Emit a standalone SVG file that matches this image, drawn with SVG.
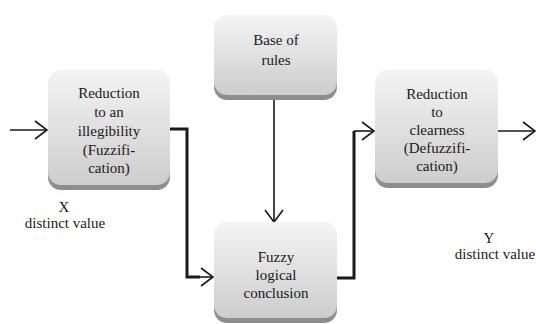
<svg xmlns="http://www.w3.org/2000/svg" width="536" height="324" viewBox="0 0 536 324">
<defs>
<linearGradient id="g" x1="0" y1="0" x2="0" y2="1">
<stop offset="0" stop-color="#f4f4f4"/>
<stop offset="1" stop-color="#cdcdcd"/>
</linearGradient>
<linearGradient id="sh" x1="0" y1="0" x2="0" y2="1">
<stop offset="0" stop-color="#bdbdbd"/>
<stop offset="1" stop-color="#8c8c8c"/>
</linearGradient>
<marker id="ah" viewBox="0 0 14 20" refX="13" refY="10" markerWidth="14" markerHeight="20" markerUnits="userSpaceOnUse" orient="auto">
<path d="M1,1 L13,10 L1,19" fill="none" stroke="#1a1a1a" stroke-width="1.6"/>
</marker>
</defs>
<style>
.sh{fill:url(#sh)}
.bx{fill:url(#g)}
.t{font-family:"Liberation Serif",serif;font-size:15px;fill:#1a1a1a;text-anchor:middle}
.thin{fill:none;stroke:#1a1a1a;stroke-width:1.6}
.thick{fill:none;stroke:#1a1a1a;stroke-width:3}
</style>
<rect width="536" height="324" fill="#fff"/>
<g id="connectors">
<line class="thin" x1="10" y1="130" x2="47" y2="130" marker-end="url(#ah)"/>
<polyline class="thick" points="170,129 187,129 187,277 200,277"/>
<line class="thin" x1="187" y1="277" x2="213" y2="277" marker-end="url(#ah)"/>
<line class="thin" x1="274" y1="98" x2="274" y2="222" marker-end="url(#ah)"/>
<polyline class="thick" points="337,278 354,278 354,131"/>
<line class="thin" x1="354" y1="131" x2="374" y2="131" marker-end="url(#ah)"/>
<line class="thin" x1="498" y1="131" x2="535" y2="131" marker-end="url(#ah)"/>
</g>
<g id="fuzzification">
<rect class="sh" x="48" y="74" width="122" height="116" rx="13"/>
<rect class="bx" x="48" y="70" width="122" height="115" rx="13"/>
<text class="t" x="109" y="98">Reduction</text>
<text class="t" x="109" y="117">to an</text>
<text class="t" x="109" y="136">illegibility</text>
<text class="t" x="109" y="155">(Fuzzifi-</text>
<text class="t" x="109" y="173">cation)</text>
</g>
<g id="rules">
<rect class="sh" x="214" y="19" width="123" height="81" rx="13"/>
<rect class="bx" x="214" y="15" width="123" height="80" rx="13"/>
<text class="t" x="276" y="45">Base of</text>
<text class="t" x="276" y="65">rules</text>
</g>
<g id="conclusion">
<rect class="sh" x="214" y="226" width="123" height="97" rx="13"/>
<rect class="bx" x="214" y="222" width="123" height="96" rx="13"/>
<text class="t" x="276" y="262">Fuzzy</text>
<text class="t" x="276" y="280">logical</text>
<text class="t" x="276" y="298">conclusion</text>
</g>
<g id="defuzzification">
<rect class="sh" x="375" y="74" width="123" height="114" rx="13"/>
<rect class="bx" x="375" y="70" width="123" height="113" rx="13"/>
<text class="t" x="437" y="99">Reduction</text>
<text class="t" x="437" y="117">to</text>
<text class="t" x="437" y="135">clearness</text>
<text class="t" x="437" y="153">(Defuzzifi-</text>
<text class="t" x="437" y="171">cation)</text>
</g>
<g id="labels">
<text class="t" x="64" y="212">X</text>
<text class="t" x="65" y="228">distinct value</text>
<text class="t" x="489" y="243">Y</text>
<text class="t" x="495" y="259">distinct value</text>
</g>
</svg>
